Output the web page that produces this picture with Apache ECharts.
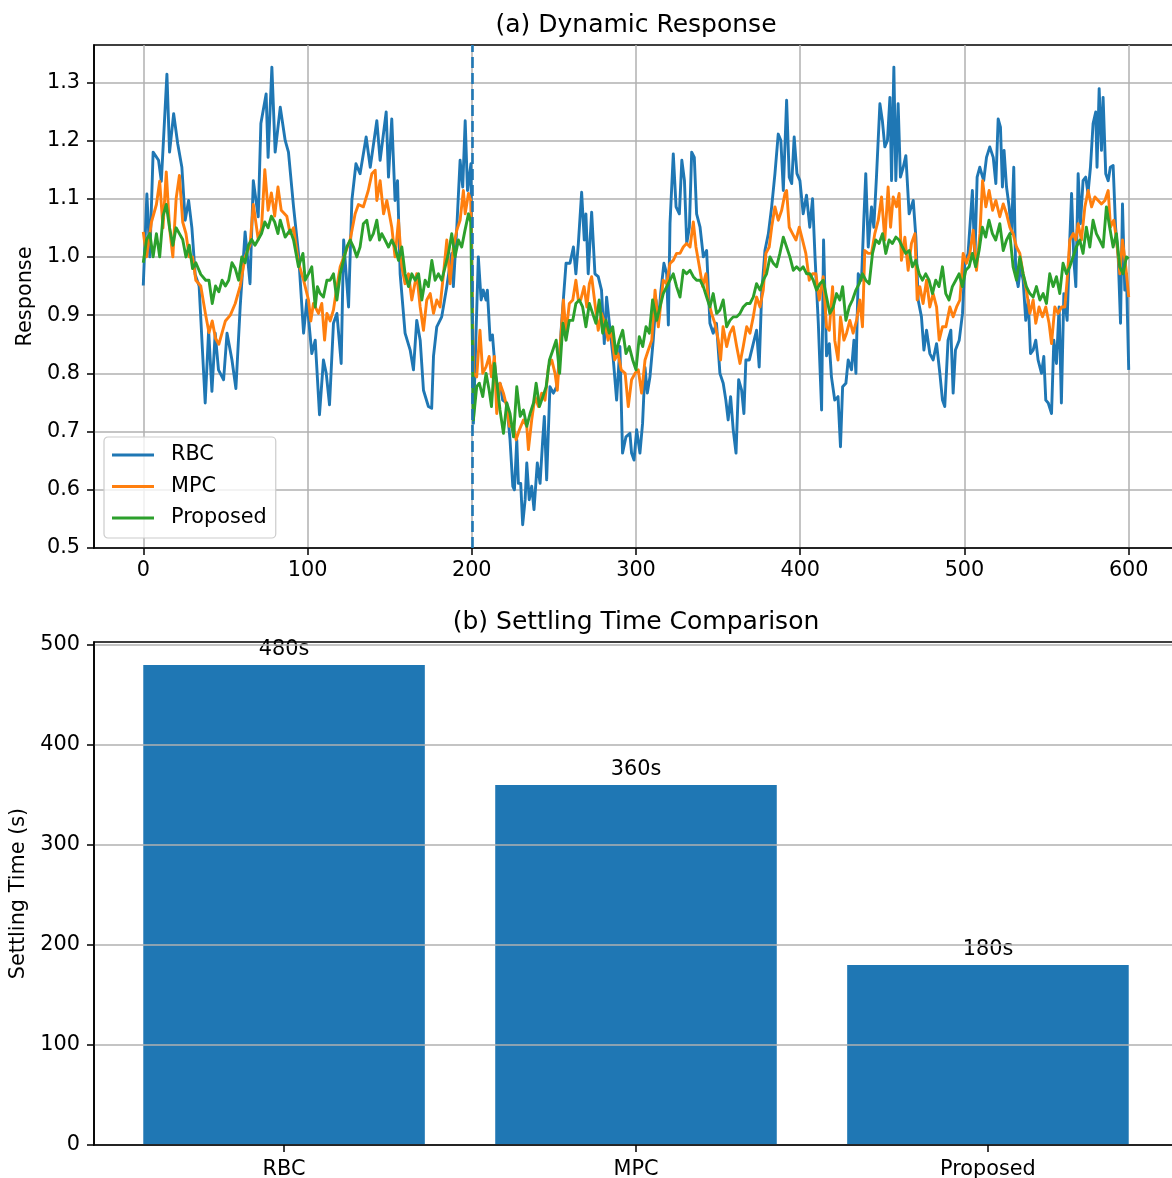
<!DOCTYPE html>
<html>
<head>
<meta charset="utf-8">
<title>Dynamic Response and Settling Time</title>
<script src="https://cdn.jsdelivr.net/npm/echarts@6/dist/echarts.min.js"></script>
<style>
  html, body { margin: 0; padding: 0; background: #ffffff; }
  #chart { width: 1172px; height: 1178px; }
</style>
</head>
<body>
<div id="chart"></div>
<script>
// ---- (a) Dynamic response: [time, response] ----
const timeTicks = [0, 100, 200, 300, 400, 500, 600];
const responseTicks = [0.5, 0.6, 0.7, 0.8, 0.9, 1.0, 1.1, 1.2, 1.3];
const disturbanceTime = 200;

const rbc = [
  [0,0.951],[2.2,1.108],[4,1.0],[6,1.18],[9.3,1.166],[11,1.13],[14.4,1.314],[16,1.18],[18.5,1.246],
  [21,1.194],[23.5,1.154],[25.5,1.063],[27.6,1.097],[29.6,1.05],[31.6,0.97],[34,0.95],[37.7,0.749],
  [39.8,0.874],[41.8,0.769],[43.8,0.869],[45.8,0.806],[48.9,0.789],[51,0.869],[54,0.823],[56.4,0.774],
  [59,0.914],[62,1.043],[65,0.954],[67,1.131],[70,1.069],[71.6,1.229],[74.8,1.28],[76,1.171],
  [78.3,1.326],[80.3,1.18],[83.4,1.257],[86.4,1.2],[88.4,1.18],[91.5,1.086],[94.5,1.006],[97.6,0.869],
  [99.6,0.926],[102.6,0.834],[104.7,0.857],[107.3,0.729],[109.7,0.823],[111.4,0.8],[113.4,0.746],
  [115.8,0.886],[117.9,0.903],[120.5,0.817],[122,1.029],[125,0.914],[127,1.097],[129.5,1.16],[132,1.143],
  [135.7,1.206],[138.2,1.154],[142.2,1.234],[144.2,1.166],[147.9,1.249],[149.3,1.137],[151.3,1.237],
  [153.3,1.097],[154.8,1.131],[156.4,0.971],[159.4,0.869],[162.5,0.84],[164.5,0.806],[166.5,0.891],
  [168.6,0.857],[170.6,0.771],[173.6,0.743],[175.6,0.74],[176.7,0.829],[178.7,0.88],[181.7,0.897],
  [184.8,0.949],[187.8,1.006],[188.8,0.949],[190.9,1.051],[192.9,1.166],[194.5,1.12],[196,1.234],
  [197.4,1.114],[199.5,1.16],[201,0.714],[202.6,0.869],[204,1.0],[205.7,0.926],[207,0.943],[208.7,0.926],
  [209.5,0.943],[211.2,0.857],[212.6,0.866],[213.8,0.823],[215.2,0.777],[217.2,0.783],[218.8,0.754],
  [221.3,0.749],[223.3,0.686],[225,0.606],[226,0.6],[227.4,0.686],[228.4,0.611],[229.8,0.611],[231,0.54],
  [232.5,0.583],[233.5,0.646],[235,0.583],[236.5,0.606],[237.9,0.566],[239.9,0.646],[241.6,0.611],
  [243.2,0.686],[244.2,0.726],[245.6,0.617],[247.6,0.777],[249.7,0.766],[251.7,0.777],[253.3,0.823],
  [254.7,0.886],[257.4,0.989],[259.8,0.989],[261.9,1.017],[263.4,0.971],[264.9,1.023],[266.9,1.111],
  [268.5,1.029],[269.5,1.074],[270.9,0.971],[273,1.077],[275,0.971],[277,0.966],[279,0.943],[280.7,0.851],
  [282.1,0.931],[284,0.88],[286.2,0.823],[288.2,0.754],[290.2,0.846],[291.8,0.663],[293.9,0.691],
  [296.3,0.697],[297.3,0.663],[298.8,0.651],[300.4,0.703],[301.4,0.703],[302.4,0.663],[304,0.714],
  [305.5,0.81],[306.9,0.766],[308.5,0.794],[310.5,0.857],[312.2,0.926],[313.6,0.886],[315,0.937],
  [317,0.989],[318.7,0.971],[319.7,0.883],[320.7,1.057],[322.7,1.177],[324.4,1.086],[326.4,1.074],
  [327.9,1.166],[329.5,1.131],[330.9,1.023],[332.5,1.051],[333.9,1.18],[335.5,1.171],[336.9,1.074],
  [339,1.051],[341,1.0],[343,1.011],[345,0.886],[347,0.869],[349,0.886],[351.1,0.8],[353.1,0.783],
  [354.7,0.754],[356.1,0.72],[357.6,0.76],[359.2,0.703],[360.9,0.663],[362.5,0.789],[364.3,0.771],
  [365.7,0.731],[366.9,0.823],[369,0.823],[371.4,0.851],[373.4,0.874],[375,0.811],[376.5,0.937],
  [378.5,1.011],[380.6,1.04],[382.6,1.086],[384.6,1.143],[386.6,1.211],[388.2,1.2],[389.7,1.114],
  [391.7,1.269],[393.3,1.137],[394.8,1.126],[396.3,1.206],[398,1.143],[399.8,1.131],[401.8,1.074],
  [403.8,1.106],[405.8,1.051],[407.5,1.1],[409,1.0],[411,0.886],[413,0.737],[414.2,1.029],[416,0.83],
  [417.7,0.851],[419,0.794],[421,0.754],[423,0.76],[424.5,0.674],[425.8,0.777],[427.8,0.783],[429.2,0.823],
  [431.2,0.806],[432.7,0.857],[433.9,0.8],[435.3,0.971],[437.3,0.96],[438.7,1.063],[439.9,1.143],
  [441.4,1.017],[443.4,1.086],[444.8,1.051],[446.4,1.137],[448.5,1.263],[450,1.234],[451.5,1.189],
  [453.1,1.2],[454.6,1.274],[455.6,1.131],[457,1.326],[458.2,1.131],[459.6,1.263],[461,1.137],
  [462.7,1.154],[464.3,1.174],[466.3,1.074],[468.8,1.097],[470.4,1.034],[471.8,0.926],[473.8,0.897],
  [475.3,0.84],[476.9,0.874],[478.9,0.834],[480.9,0.823],[483,0.851],[485,0.8],[486.6,0.754],[488,0.743],
  [490,0.857],[491.7,0.874],[493.1,0.766],[494.5,0.84],[496.8,0.857],[498.8,0.903],[500.2,0.989],
  [502.2,1.006],[504.8,1.114],[506.3,0.994],[507.7,1.137],[509.3,1.154],[511.7,1.131],[513.4,1.171],
  [515.4,1.189],[517.5,1.171],[519.1,1.126],[520.5,1.237],[521.9,1.223],[523.1,1.12],[524.1,1.183],
  [525.6,1.12],[527.2,1.086],[528.6,1.04],[530,1.154],[531.2,0.971],[532.7,0.949],[534.1,0.983],
  [535.7,0.96],[537.3,0.891],[538.8,0.926],[540.2,0.834],[541.8,0.84],[543.4,0.857],[544.8,0.823],
  [546.9,0.8],[548.3,0.829],[549.5,0.754],[551,0.749],[553,0.731],[554.4,0.857],[556,0.817],[557.6,0.914],
  [559,0.749],[560.5,0.937],[562.5,0.891],[564.1,1.029],[565.2,1.109],[566.6,0.994],[567.8,0.949],
  [569.2,1.143],[570.6,1.057],[572.2,1.131],[573.8,1.137],[575.2,1.109],[576.7,1.154],[578.3,1.229],
  [579.9,1.249],[580.7,1.154],[582,1.289],[583.4,1.183],[584.4,1.274],[586,1.143],[587.5,1.131],
  [588.8,1.154],[590.5,1.157],[592,1.051],[593.6,1.0],[595,0.886],[596.2,1.091],[597.6,0.943],
  [598.6,0.971],[600,0.806]
];

const mpc = [
  [0,1.043],[2,1.0],[5,1.06],[8,1.09],[10,1.13],[12,1.05],[14,1.146],[16,1.05],[18,1.0],[20,1.1],
  [22,1.14],[24,1.06],[26,1.04],[28,1.0],[30,1.0],[32,0.96],[35,0.95],[38,0.9],[40,0.87],[42,0.89],
  [44,0.86],[46,0.85],[48,0.87],[50,0.89],[53,0.9],[56,0.92],[59,0.95],[62,1.0],[65,1.02],[67,1.09],
  [70,1.03],[72,1.05],[74,1.15],[76,1.08],[78,1.11],[80,1.07],[82,1.12],[84,1.08],[87.4,1.07],
  [89.4,1.04],[91.5,1.05],[94.5,0.99],[97.6,0.96],[100.6,0.926],[102,0.89],[103.6,0.92],[106.7,0.903],
  [108.7,0.92],[110.4,0.857],[111.8,0.903],[113.8,0.89],[115.8,0.909],[117.9,0.949],[119.9,0.983],
  [122.9,1.006],[126,1.03],[129,1.074],[131,1.09],[134,1.086],[137,1.114],[139.2,1.143],[141.2,1.149],
  [142.2,1.097],[144.2,1.131],[146.3,1.074],[148.3,1.097],[151.3,1.051],[153.3,1.0],[155.4,1.063],
  [157.4,0.983],[159.4,0.954],[161.5,0.971],[163.5,0.926],[166.5,0.971],[168.6,0.914],[170.6,0.874],
  [172.6,0.926],[174.7,0.937],[176.7,0.903],[178.7,0.926],[180.7,0.914],[182.8,0.971],[184.8,1.029],
  [186.8,0.954],[188.8,1.017],[190.9,1.046],[192.9,1.063],[194.9,1.114],[196,1.074],[198,1.109],
  [199.4,1.097],[201,0.8],[203,0.794],[205,0.874],[206.7,0.8],[208.7,0.811],[210.6,0.829],[212,0.794],
  [213.8,0.829],[215.2,0.731],[217.2,0.783],[219.3,0.766],[221.3,0.743],[222.9,0.709],[225.4,0.709],
  [227,0.686],[229,0.703],[231.5,0.72],[233.5,0.709],[234.5,0.669],[236.5,0.72],[238.5,0.76],
  [240.6,0.743],[242.6,0.766],[244.6,0.754],[246.7,0.811],[248.7,0.823],[250.7,0.8],[252.1,0.771],
  [253.8,0.846],[255.8,0.926],[257.4,0.869],[259.4,0.92],[261.5,0.926],[263.4,0.96],[264.9,0.926],
  [266.3,0.926],[268.4,0.949],[270.1,0.914],[271.6,0.954],[273,0.966],[275,0.92],[277,0.874],[279,0.903],
  [281,0.886],[283,0.857],[285,0.874],[287,0.823],[289,0.834],[291,0.806],[293.4,0.8],[295.3,0.743],
  [297.3,0.789],[299.4,0.8],[301.4,0.806],[303.4,0.766],[305.5,0.823],[307.5,0.84],[309.6,0.857],
  [311.6,0.943],[313.6,0.88],[316.6,0.96],[318.7,0.954],[320.7,0.989],[322.7,0.994],[324.7,1.006],
  [326.8,1.006],[328.8,1.017],[330.8,1.023],[332.9,1.017],[334.9,1.06],[336.5,1.017],[338.6,0.983],
  [340.6,0.949],[342.6,0.971],[344,0.926],[346,0.903],[348,0.886],[350.1,0.857],[351.5,0.823],[353,0.88],
  [355.2,0.846],[357.2,0.869],[359.2,0.88],[361.3,0.846],[363.3,0.817],[365.3,0.846],[367.4,0.88],
  [369.4,0.869],[371.4,0.897],[373.4,0.931],[375.5,0.914],[377.5,0.943],[379.1,1.006],[381.1,1.017],
  [382.6,1.051],[384.6,1.086],[386.6,1.063],[388.7,1.08],[390.7,1.109],[391.7,1.114],[393.3,1.051],
  [395.3,1.04],[397.4,1.029],[399.4,1.051],[401.4,1.029],[403.4,1.006],[405.5,0.96],[407.5,0.971],
  [409.5,0.971],[411.6,0.926],[414,0.966],[416,0.88],[417.7,0.874],[419.7,0.949],[421,0.857],[423,0.823],
  [424.5,0.897],[426.6,0.857],[428.2,0.869],[430.2,0.891],[432.2,0.869],[434.3,0.891],[436.3,0.926],
  [437.9,0.88],[439.3,1.011],[441.4,1.006],[443.4,1.006],[445.4,1.04],[447.5,1.063],[449.5,1.103],
  [451.5,1.029],[453.5,1.12],[455,1.051],[456.6,1.103],[458.6,1.086],[460.2,1.109],[461.6,0.994],
  [463.7,1.034],[465.7,0.977],[467.7,1.023],[469.8,1.04],[471.2,0.926],[472.8,0.949],[474.8,0.92],
  [476.9,0.96],[478.9,0.914],[480.9,0.937],[483,0.914],[484.6,0.857],[486.6,0.88],[488.7,0.88],
  [491.1,0.914],[493.1,0.897],[495.2,0.914],[497.2,0.926],[499.2,1.006],[501.2,0.989],[503.3,1.006],
  [505.3,1.046],[507.3,0.977],[509.4,1.04],[511,1.131],[513,1.086],[515,1.114],[517.1,1.08],[519.1,1.097],
  [521.5,1.069],[523.6,1.091],[525.6,1.074],[527.6,1.051],[529.6,1.04],[531.7,1.017],[533.7,1.006],
  [535.7,0.971],[537.7,0.943],[539.8,0.903],[541.8,0.926],[543.4,0.886],[545.4,0.914],[547.5,0.897],
  [549.5,0.914],[551.5,0.886],[553,0.851],[555,0.914],[557,0.903],[559.1,0.914],[561.1,0.914],
  [562.5,0.96],[564.1,1.029],[566.2,1.04],[567.8,1.029],[569.2,1.057],[571.2,1.029],[573.3,1.086],
  [575.3,1.114],[577.4,1.086],[579.4,1.103],[581.4,1.097],[583.4,1.091],[585.5,1.097],[587.5,1.114],
  [588.9,1.051],[590.9,1.063],[592.6,1.029],[594.6,0.971],[596.2,1.029],[598.2,0.983],[600,0.931]
];

const proposed = [
  [0,0.99],[2,1.03],[4,1.04],[6,1.0],[8,1.04],[10,1.0],[12,1.07],[14,1.09],[16,1.05],[18,1.02],
  [20,1.05],[22,1.04],[24,1.03],[26,1.0],[28,1.02],[30,0.98],[32,0.99],[35,0.97],[38,0.96],[40,0.96],
  [42,0.92],[44,0.95],[46,0.94],[48,0.96],[50,0.95],[52,0.96],[54,0.99],[56,0.98],[58,0.96],[60,1.0],
  [62,0.99],[64,1.02],[66,1.03],[68,1.02],[70,1.03],[72,1.04],[74,1.06],[76,1.05],[78,1.07],[80,1.06],
  [82,1.04],[83.4,1.063],[86.4,1.034],[89.4,1.046],[91.5,1.029],[94.5,0.983],[97.2,1.006],[98.6,0.96],
  [100.6,0.971],[102.6,0.983],[104.7,0.914],[106,0.949],[107.7,0.937],[109.7,0.931],[111.8,0.96],
  [113.8,0.96],[115.8,0.971],[117.9,0.926],[119.9,0.971],[121.9,0.994],[123.9,1.017],[126,1.029],
  [128,1.017],[130,1.0],[132,1.017],[134,1.057],[136.1,1.063],[138.1,1.029],[140.1,1.04],[142.2,1.063],
  [143.8,1.029],[145.2,1.04],[147.2,1.029],[149.3,1.017],[151.3,1.029],[153.3,1.017],[155.4,0.994],
  [157.4,1.017],[159.4,0.971],[161.5,0.949],[163.5,0.971],[165.5,0.96],[167.6,0.971],[169.6,0.926],
  [171.6,0.96],[173.6,0.949],[175.7,0.994],[177.7,0.96],[179.7,0.971],[181.7,0.96],[183.8,0.983],
  [185.8,1.006],[187.8,1.04],[189.8,1.0],[191.9,1.029],[193.9,1.017],[195.9,1.046],[198,1.074],
  [199.4,1.06],[201,0.72],[203,0.777],[204.6,0.783],[206.7,0.76],[208.7,0.8],[210.6,0.771],[212,0.743],
  [213.8,0.817],[215.6,0.777],[217.2,0.737],[219.3,0.697],[221.3,0.749],[223.3,0.731],[225.4,0.691],
  [227.4,0.777],[229.5,0.726],[231.5,0.737],[233.5,0.709],[235.5,0.731],[237.6,0.749],[239.2,0.783],
  [241.2,0.743],[243.3,0.76],[245.3,0.777],[247.3,0.823],[249.4,0.84],[251.4,0.857],[253.5,0.8],
  [255.5,0.886],[257.4,0.857],[259.4,0.891],[261.5,0.891],[263.4,0.92],[265.5,0.926],[267.5,0.914],
  [269.5,0.88],[271.6,0.92],[273.6,0.903],[275.6,0.886],[277.6,0.926],[279.7,0.869],[281.7,0.891],
  [283.7,0.869],[285.8,0.88],[287.8,0.834],[289.8,0.857],[291.9,0.874],[293.9,0.834],[295.9,0.846],
  [298,0.823],[300,0.806],[302,0.863],[304.1,0.846],[306.1,0.88],[308.1,0.869],[310.1,0.926],
  [312.6,0.891],[314.6,0.914],[316.6,0.937],[318.7,0.949],[320.7,0.96],[322.7,0.971],[324.7,0.949],
  [326.8,0.931],[328.8,0.977],[330.8,0.971],[332.9,0.977],[334.9,0.966],[336.9,0.96],[339,0.96],
  [341,0.949],[343,0.931],[345,0.914],[347,0.937],[349.1,0.903],[351.1,0.909],[353.1,0.926],[355.2,0.88],
  [357.2,0.891],[359.2,0.897],[361.3,0.897],[363.3,0.903],[365.3,0.914],[367.4,0.92],[369.4,0.92],
  [371.4,0.931],[373.4,0.954],[375.5,0.943],[377.5,0.96],[379.5,0.971],[381.6,1.0],[383.6,0.989],
  [385.6,0.983],[387.6,1.006],[389.7,1.034],[391.7,1.017],[393.7,1.0],[395.8,0.977],[397.8,0.983],
  [399.8,0.977],[401.8,0.983],[403.9,0.971],[405.9,0.971],[407.9,0.96],[409.9,0.943],[412,0.954],
  [414,0.96],[416,0.931],[418,0.903],[420.1,0.914],[422.1,0.937],[424.1,0.926],[425.8,0.949],
  [427.8,0.891],[429.8,0.914],[431.8,0.926],[433.9,0.943],[435.9,0.954],[437.9,0.971],[439.9,0.96],
  [442,0.954],[444,1.006],[446,1.029],[448,1.023],[450.1,1.04],[452.1,1.006],[454.1,1.029],[456.1,1.023],
  [458.2,1.034],[460.2,1.029],[462.2,1.017],[464.2,1.006],[466.3,1.011],[468.3,0.983],[470.3,0.994],
  [472.4,0.971],[474.4,0.96],[476.4,0.971],[478.4,0.96],[480.5,0.937],[482.5,0.96],[484.5,0.949],
  [486.6,0.983],[488.6,0.937],[490.6,0.926],[492.6,0.949],[494.7,0.96],[496.7,0.971],[498.7,0.949],
  [500.8,0.977],[502.8,0.983],[504.8,1.006],[506.8,0.983],[508.9,1.011],[510.9,1.051],[512.9,1.034],
  [514.9,1.063],[517,1.04],[519,1.029],[521.5,1.057],[523.6,1.011],[525.6,1.029],[527.6,1.04],
  [529.6,0.983],[531.7,0.96],[533.7,1.0],[535.7,0.971],[537.7,0.949],[539.8,0.937],[541.8,0.931],
  [543.8,0.949],[545.9,0.926],[547.9,0.937],[549.9,0.92],[551.9,0.971],[554,0.949],[556,0.966],
  [558,0.937],[560,0.989],[562.1,0.971],[564.1,0.983],[566.1,1.0],[568.1,1.017],[570.2,1.029],
  [572.2,1.006],[574.2,1.051],[576.3,1.017],[578.3,1.063],[580.3,1.04],[582.3,1.029],[584.4,1.017],
  [586.4,1.086],[588.4,1.051],[590.5,1.017],[592.5,1.04],[594.5,0.983],[596.6,0.971],[598.6,1.0],
  [600,0.997]
];

// ---- (b) Settling time comparison ----
const controllers = ['RBC', 'MPC', 'Proposed'];
const settlingTimes = [480, 360, 180];
const settlingTicks = [0, 100, 200, 300, 400, 500];
const controllerTicks = [0, 1, 2];

const FONT = 'DejaVu Sans';
const BLUE = '#1f77b4', ORANGE = '#ff7f0e', GREEN = '#2ca02c';
const GRIDLINE = { show: true, lineStyle: { color: '#b0b0b0', width: 1.5 } };
const TICK = { show: true, inside: false, length: 7, lineStyle: { color: '#000', width: 1.5 } };
const SPINE = { show: true, onZero: false, lineStyle: { color: '#000', width: 1.6 } };
const LABEL = { color: '#000', fontFamily: FONT, fontSize: 20.8 };

const chart = echarts.init(document.getElementById('chart'), null, { renderer: 'canvas' });

const lineSeries = (name, data, color, extra) => Object.assign({
  name, type: 'line', data, xAxisIndex: 0, yAxisIndex: 0,
  showSymbol: false, symbol: 'none', smooth: false,
  lineStyle: { color, width: 2.9, join: 'round' },
  itemStyle: { color },
  emphasis: { disabled: true }
}, extra || {});

// The right edge of both plot boxes runs slightly past the canvas edge.
const plotBox = (top) => ({
  left: 94, width: 1084, top, height: 503,
  outerBoundsMode: 'none', containLabel: false,
  show: true, borderColor: '#000', borderWidth: 1.6, backgroundColor: 'transparent'
});

chart.setOption({
  animation: false,
  backgroundColor: '#ffffff',
  title: [
    { text: '(a) Dynamic Response', left: 636, top: 13, textAlign: 'center', padding: 0,
      textStyle: { fontFamily: FONT, fontSize: 25, fontWeight: 'normal', color: '#000' } },
    { text: '(b) Settling Time Comparison', left: 636, top: 610, textAlign: 'center', padding: 0,
      textStyle: { fontFamily: FONT, fontSize: 25, fontWeight: 'normal', color: '#000' } }
  ],
  legend: {
    data: ['RBC', 'MPC', 'Proposed'],
    orient: 'vertical', left: 104, top: 437,
    padding: [6, 9, 8, 8], itemGap: 7.5,
    itemWidth: 42, itemHeight: 3, icon: 'rect',
    backgroundColor: 'rgba(255,255,255,0.8)',
    borderColor: '#cccccc', borderWidth: 1.2, borderRadius: 4,
    textStyle: { color: '#000', fontFamily: FONT, fontSize: 20.8, lineHeight: 24, padding: [0, 0, 0, 12] }
  },
  grid: [plotBox(45), plotBox(642)],
  xAxis: [
    { type: 'value', gridIndex: 0, min: -30, max: 630, z: 3,
      axisLine: SPINE, axisTick: Object.assign({ customValues: timeTicks }, TICK),
      axisLabel: Object.assign({ customValues: timeTicks, margin: 12 }, LABEL),
      splitLine: GRIDLINE },
    { type: 'value', gridIndex: 1, min: -0.54, max: 2.54, z: 3,
      axisLine: SPINE, axisTick: Object.assign({ customValues: controllerTicks }, TICK),
      axisLabel: Object.assign({ customValues: controllerTicks, margin: 14,
        formatter: v => controllers[Math.round(v)] }, LABEL),
      splitLine: { show: false } }
  ],
  yAxis: [
    { type: 'value', gridIndex: 0, min: 0.5, max: 1.364, z: 3,
      name: 'Response', nameLocation: 'middle', nameGap: 52, nameRotate: 90,
      nameTextStyle: LABEL,
      axisLine: SPINE, axisTick: Object.assign({ customValues: responseTicks }, TICK),
      axisLabel: Object.assign({ customValues: responseTicks, margin: 14,
        formatter: v => v.toFixed(1) }, LABEL),
      splitLine: GRIDLINE },
    { type: 'value', gridIndex: 1, min: 0, max: 503, z: 3,
      name: 'Settling Time (s)', nameLocation: 'middle', nameGap: 63, nameRotate: 90,
      nameTextStyle: LABEL,
      axisLine: SPINE, axisTick: Object.assign({ customValues: settlingTicks }, TICK),
      axisLabel: Object.assign({ customValues: settlingTicks, margin: 14 }, LABEL),
      splitLine: GRIDLINE }
  ],
  series: [
    lineSeries('RBC', rbc, BLUE),
    lineSeries('MPC', mpc, ORANGE),
    lineSeries('Proposed', proposed, GREEN, {
      markLine: {
        silent: true, symbol: ['none', 'none'], label: { show: false },
        lineStyle: { color: BLUE, width: 2.6, type: [11, 5] },
        data: [{ xAxis: disturbanceTime }]
      }
    }),
    {
      name: 'Settling Time', type: 'bar', xAxisIndex: 1, yAxisIndex: 1,
      data: settlingTimes.map((v, i) => [i, v]),
      barWidth: '80%',
      itemStyle: { color: BLUE },
      emphasis: { disabled: true },
      label: { show: true, position: 'top', distance: 5, color: '#000', fontFamily: FONT, fontSize: 20.8,
        formatter: p => p.value[1] + 's' }
    }
  ]
});
</script>
</body>
</html>
